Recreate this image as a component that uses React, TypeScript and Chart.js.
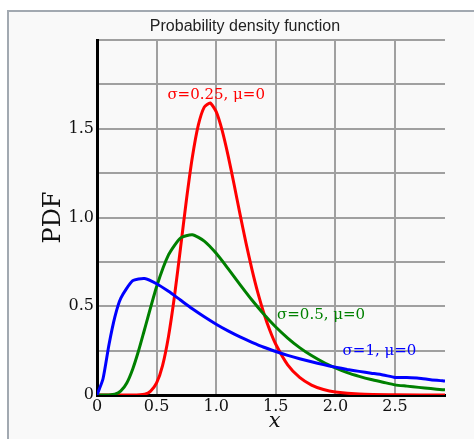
import React, { useEffect, useRef } from 'react';
import { Chart, registerables } from 'chart.js';

Chart.register(...registerables);

const chartTitle = 'Probability density function';
const xAxisTitle = 'x';
const yAxisTitle = 'PDF';

const seriesNames = ['σ=0.25, μ=0', 'σ=0.5, μ=0', 'σ=1, μ=0'];
const seriesColors = ['#ff0000', '#008000', '#0000ff'];

const redX = [0, 0.3, 0.4, 0.45, 0.5, 0.55, 0.6, 0.65, 0.7, 0.75, 0.8, 0.85, 0.9, 0.95, 1.0, 1.05, 1.1, 1.15, 1.2, 1.25, 1.3, 1.35, 1.4, 1.45, 1.5, 1.6, 1.7, 1.8, 1.9, 2.0, 2.2, 2.5, 2.92];
const redY = [0, 0, 0.005, 0.022, 0.068, 0.166, 0.33, 0.556, 0.824, 1.097, 1.339, 1.52, 1.622, 1.645, 1.596, 1.491, 1.349, 1.187, 1.019, 0.857, 0.708, 0.575, 0.461, 0.365, 0.286, 0.17, 0.099, 0.056, 0.031, 0.017, 0.005, 0.001, 0];

const greenX = [0, 0.1, 0.15, 0.2, 0.25, 0.3, 0.35, 0.4, 0.5, 0.6, 0.7, 0.8, 0.9, 1.0, 1.1, 1.2, 1.3, 1.4, 1.5, 1.6, 1.7, 1.8, 1.9, 2.0, 2.1, 2.2, 2.3, 2.4, 2.5, 2.6, 2.7, 2.8, 2.9, 2.92];
const greenY = [0, 0.0002, 0.004, 0.023, 0.068, 0.147, 0.252, 0.372, 0.61, 0.789, 0.884, 0.903, 0.867, 0.798, 0.712, 0.622, 0.535, 0.455, 0.383, 0.321, 0.267, 0.222, 0.184, 0.153, 0.126, 0.105, 0.087, 0.072, 0.057, 0.05, 0.043, 0.036, 0.03, 0.029];

const blueX = [0, 0.05, 0.1, 0.15, 0.2, 0.3, 0.4, 0.5, 0.6, 0.7, 0.8, 0.9, 1.0, 1.1, 1.2, 1.3, 1.4, 1.5, 1.6, 1.7, 1.8, 1.9, 2.0, 2.1, 2.2, 2.3, 2.4, 2.5, 2.6, 2.7, 2.8, 2.9, 2.92];
const blueY = [0, 0.09, 0.282, 0.44, 0.546, 0.644, 0.656, 0.627, 0.584, 0.535, 0.486, 0.441, 0.399, 0.361, 0.327, 0.297, 0.269, 0.245, 0.223, 0.204, 0.187, 0.171, 0.157, 0.144, 0.133, 0.123, 0.113, 0.099, 0.098, 0.095, 0.086, 0.08, 0.079];

const xTickLabels = ['0', '0.5', '1.0', '1.5', '2.0', '2.5'];
const yTickLabels = ['0', '0.5', '1.0', '1.5'];

// label anchor points (data units) for the series annotations
const labelAtX = [1.0, 1.88, 2.37];
const labelAtY = [1.69, 0.45, 0.247];

const toPoints = (xs: number[], ys: number[]) => xs.map((x, i) => ({ x, y: ys[i] }));

const fmt = (v: number) => (v === 0 ? '0' : v.toFixed(1));

const annotPlugin = {
  id: 'annot',
  afterDraw(chart: any) {
    const { ctx, scales } = chart;
    const xs = scales.x;
    const ys = scales.y;
    ctx.save();
    // title
    ctx.fillStyle = '#222';
    ctx.font = '16px "Liberation Sans", Arial, sans-serif';
    ctx.textAlign = 'center';
    ctx.textBaseline = 'alphabetic';
    ctx.fillText(chartTitle, 245, 31);
    // y axis title
    ctx.save();
    ctx.translate(54, (chart.chartArea.top + chart.chartArea.bottom) / 2);
    ctx.rotate(-Math.PI / 2);
    ctx.font = '24px "DejaVu Serif", serif';
    ctx.textBaseline = 'middle';
    ctx.fillStyle = '#111';
    ctx.fillText(yAxisTitle, 0, 0);
    ctx.restore();
    // x axis title
    ctx.font = 'italic 21px "DejaVu Serif", serif';
    ctx.textBaseline = 'middle';
    ctx.fillStyle = '#111';
    ctx.fillText(xAxisTitle, xs.getPixelForValue(1.49), 422);
    // series labels
    ctx.font = '15px "DejaVu Serif", serif';
    for (let i = 0; i < seriesNames.length; i++) {
      ctx.fillStyle = seriesColors[i];
      ctx.fillText(seriesNames[i], xs.getPixelForValue(labelAtX[i]), ys.getPixelForValue(labelAtY[i]));
    }
    ctx.restore();
  },
};

export default function App() {
  const ref = useRef<HTMLCanvasElement | null>(null);

  useEffect(() => {
    if (!ref.current) return;
    const series = [toPoints(redX, redY), toPoints(greenX, greenY), toPoints(blueX, blueY)];
    const chart = new Chart(ref.current, {
      type: 'line',
      data: {
        datasets: [2, 1, 0].map((i) => ({
          label: seriesNames[i],
          data: series[i],
          borderColor: seriesColors[i],
          backgroundColor: seriesColors[i],
          borderWidth: 3,
          pointRadius: 0,
          tension: 0.2,
          fill: false,
        })),
      },
      options: {
        responsive: false,
        animation: false,
        layout: { padding: { left: 0, right: 29, top: 40, bottom: 0 } },
        plugins: {
          legend: { display: false },
          title: { display: false },
          tooltip: { enabled: false },
        },
        scales: {
          x: {
            type: 'linear',
            min: 0,
            max: 2.92,
            afterFit: (s: any) => {
              s.height = 44;
            },
            ticks: {
              stepSize: 0.5,
              includeBounds: false,
              padding: 2,
              color: '#111',
              font: { family: '"DejaVu Serif", serif', size: 16 },
              maxRotation: 0,
              autoSkip: false,
              callback: (v: any) => {
                const s = fmt(Number(v));
                return xTickLabels.includes(s) ? s : '';
              },
            },
            grid: { color: '#a0a0a0', lineWidth: 2, drawTicks: false },
            border: { color: '#000', width: 3 },
          },
          y: {
            type: 'linear',
            min: 0,
            max: 2.0,
            afterFit: (s: any) => {
              s.width = 97;
            },
            ticks: {
              stepSize: 0.25,
              padding: 3,
              color: '#111',
              font: { family: '"DejaVu Serif", serif', size: 16 },
              autoSkip: false,
              callback: (v: any) => {
                const s = fmt(Number(v));
                return yTickLabels.includes(s) && Math.abs(Number(v) * 2 - Math.round(Number(v) * 2)) < 1e-9 ? s : '';
              },
            },
            grid: { color: '#a0a0a0', lineWidth: 2, drawTicks: false },
            border: { color: '#000', width: 3 },
          },
        },
      },
      plugins: [annotPlugin],
    });
    return () => chart.destroy();
  }, []);

  return (
    <div style={{ position: 'fixed', left: 0, top: 0, width: 474, height: 439, overflow: 'hidden', background: '#fff' }}>
      <div
        style={{
          position: 'absolute',
          left: 7,
          top: 10,
          width: 520,
          height: 520,
          border: '2px solid #a2a9b1',
          background: '#f9f9f9',
        }}
      />
      <canvas ref={ref} width={474} height={439} style={{ position: 'absolute', left: 0, top: 0, display: 'block' }} />
    </div>
  );
}
